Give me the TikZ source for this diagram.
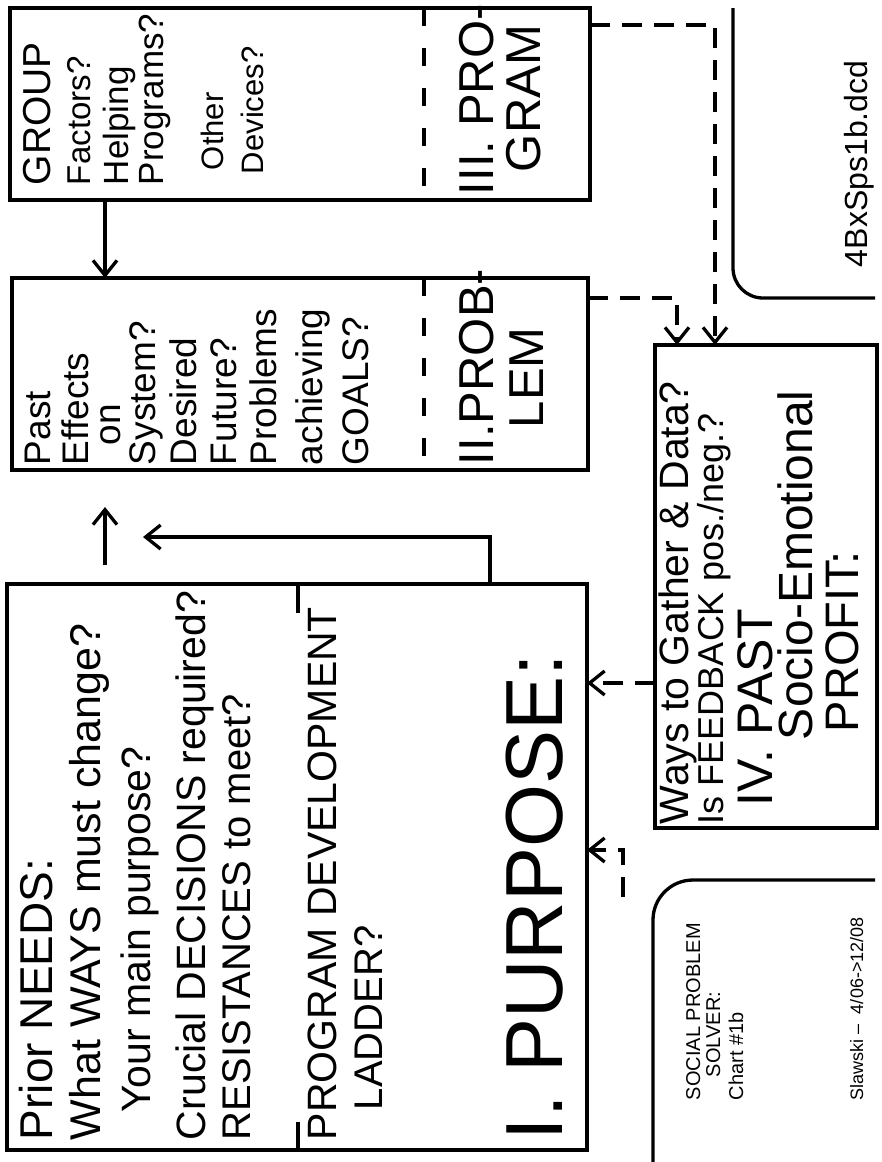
\documentclass[tikz,border=0pt]{standalone}
\usepackage{fontspec}
\setmainfont{Liberation Sans}
\usetikzlibrary{arrows.meta,calc}
\newcommand{\fsz}[1]{\fontsize{#1}{#1}\selectfont}
\begin{document}
\begin{tikzpicture}[x=1pt,y=-1pt,
  box/.style={draw, line width=3.3pt, inner sep=0pt, outer sep=0pt},
  t/.style={rotate=90, anchor=base west, inner sep=0pt, outer sep=0pt},
  tip/.style={-{Straight Barb[length=15pt,width=24pt,line width=3.3pt]}},
  arr/.style={line width=3.3pt, tip},
  darr/.style={line width=3.3pt, dash pattern=on 20pt off 12pt, tip},
  divider/.style={line width=3.3pt, dash pattern=on 18pt off 22pt}]
\useasboundingbox (0,0) rectangle (882,1162);
\fill[white] (0,0) rectangle (882,1162);

% boxes
\node[box, minimum width=580pt, minimum height=192pt] (group) at (300,104) {};
\node[box, minimum width=576pt, minimum height=192pt] (past) at (300,374) {};
\node[box, minimum width=580pt, minimum height=566pt] (purpose) at (297,867) {};
\node[box, minimum width=222pt, minimum height=483pt] (iv) at (766,586.5) {};

% dividers
\coordinate (dvx) at (424,0);
\draw[divider] (group.north -| dvx) -- (group.south -| dvx);
\draw[divider] (past.north -| dvx) -- (past.south -| dvx);
\coordinate (tkx) at (298,0);
\coordinate (tk1) at (298,613);
\coordinate (tk2) at (298,1122);
\draw[line width=3.3pt] (purpose.north -| tkx) -- (tk1);
\draw[line width=3.3pt] (purpose.south -| tkx) -- (tk2);

% GROUP box text
\node[t, font=\fsz{39}] (g1) at (50,185) {GROUP};
\node[t, font=\fsz{33}] (g2) at (90,185) {Factors?};
\node[t, font=\fsz{35}] (g3) at (128,185) {Helping};
\node[t, font=\fsz{35}] (g4) at (163,185) {Programs?};
\node[t, font=\fsz{31}] (g5) at (223,170) {Other};
\node[t, font=\fsz{31}] (g6) at (263,174) {Devices?};
\node[t, font=\fsz{49}] (g7) at (493,195) {III. PRO-};
\node[t, font=\fsz{49}] (g8) at (540,172) {GRAM};

% Past box text
\node[t, font=\fsz{37}] (p1) at (50,465) {Past};
\node[t, font=\fsz{37}] (p2) at (88,465) {Effects};
\node[t, font=\fsz{37}] (p3) at (120,445) {on};
\node[t, font=\fsz{37}] (p4) at (155,465) {System?};
\node[t, font=\fsz{37}] (p5) at (196,465) {Desired};
\node[t, font=\fsz{37}] (p6) at (236,465) {Future?};
\node[t, font=\fsz{37}] (p7) at (276,465) {Problems};
\node[t, font=\fsz{37}] (p8) at (322,465) {achieving};
\node[t, font=\fsz{37}] (p9) at (368,465) {GOALS?};
\node[t, font=\fsz{49}] (p10) at (493,465) {II.PROB-};
\node[t, font=\fsz{49}] (p11) at (543,428) {LEM};

% Purpose box text
\node[t, font=\fsz{46}] (q1) at (52,1140) {Prior NEEDS:};
\node[t, font=\fsz{43}] (q2) at (100,1140) {What WAYS must change?};
\node[t, font=\fsz{41}] (q3) at (150,1112) {Your main purpose?};
\node[t, font=\fsz{41}] (q4) at (205,1140) {Crucial DECISIONS required?};
\node[t, font=\fsz{40}] (q5) at (250,1140) {RESISTANCES to meet?};
\node[t, font=\fsz{41}] (q6) at (336,1140) {PROGRAM DEVELOPMENT};
\node[t, font=\fsz{40}] (q7) at (382,1110) {LADDER?};
\node[t, font=\fsz{81}] (q8) at (562,1140) {I. PURPOSE:};

% IV box text
\node[t, font=\fsz{41}] (v1) at (688,824) {Ways to Gather \& Data?};
\node[t, font=\fsz{36}] (v2) at (723,824) {Is FEEDBACK pos./neg.?};
\node[t, font=\fsz{50}] (v3) at (772,806) {IV. PAST};
\node[t, font=\fsz{48}] (v4) at (812,740) {Socio-Emotional};
\node[t, font=\fsz{47}] (v5) at (858,732) {PROFIT:};

% corner frames
\draw[line width=3.3pt, rounded corners=30pt] (733,8) |- (875,298);
\draw[line width=3.3pt, rounded corners=40pt] (653,1162) |- (875,880);
\node[t, font=\fsz{32}] (f1) at (867,267) {4BxSps1b.dcd};
\node[t, font=\fsz{20}] (s1) at (700,1100) {SOCIAL PROBLEM};
\node[t, font=\fsz{20}] (s2) at (720,1077) {SOLVER:};
\node[t, font=\fsz{20}] (s3) at (743,1100) {Chart \#1b};
\node[t, font=\fsz{18}] (s4) at (863,1100) {Slawski --\ \ 4/06->12/08};

% connectors
\coordinate (ax) at (105,0);
\draw[arr] (group.south -| ax) -- (past.north -| ax);
\coordinate (u1) at (105,565);
\coordinate (u2) at (105,507);
\draw[arr] (u1) -- (u2);
\coordinate (lx) at (490,0);
\coordinate (l2) at (143,537);
\draw[arr] (purpose.north -| lx) |- (l2);

\coordinate (c1) at (0,25);
\coordinate (c2) at (715,0);
\draw[darr] (group.east |- c1) -| (iv.north -| c2);
\coordinate (c3) at (0,298);
\coordinate (c4) at (677,0);
\draw[darr] (past.east |- c3) -| (iv.north -| c4);
\coordinate (c5) at (0,683);
\draw[darr] (iv.west |- c5) -- (purpose.east |- c5);
\coordinate (c6) at (623,897);
\coordinate (c7) at (0,850);
\draw[darr] (c6) |- (purpose.east |- c7);
\end{tikzpicture}
\end{document}
